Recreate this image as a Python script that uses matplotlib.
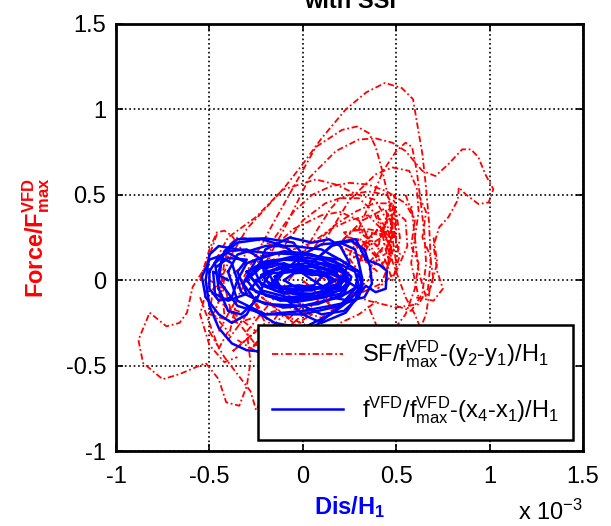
import matplotlib
matplotlib.use("Agg")
import matplotlib.pyplot as plt
import numpy as np

plt.rcParams["font.family"] = ["Liberation Sans", "DejaVu Sans"]
plt.rcParams["mathtext.fontset"] = "custom"
plt.rcParams["mathtext.rm"] = "Liberation Sans"
plt.rcParams["mathtext.it"] = "Liberation Sans"
plt.rcParams["mathtext.bf"] = "Liberation Sans:bold"
plt.rcParams["mathtext.default"] = "regular"

# x in units of 1e-3 (Dis/H1), y = Force/F_max
# --- SF/f_max - (y2-y1)/H1  (red, dash-dot) ---
red_big = [(-0.42, -0.2), (-0.44, 0.0), (-0.38, 0.15), (-0.3, 0.3), (-0.2, 0.42),
           (-0.1, 0.54), (0.0, 0.68), (0.1, 0.83), (0.23, 1.0), (0.34, 1.1),
           (0.44, 1.155), (0.53, 1.125), (0.59, 1.06), (0.61, 0.93), (0.64, 0.74),
           (0.66, 0.54), (0.675, 0.35), (0.685, 0.12), (0.67, -0.05), (0.62, -0.14),
           (0.5, -0.16), (0.35, -0.12), (0.2, -0.06)]
red_mid = [(-0.35, -0.05), (-0.25, 0.15), (-0.15, 0.35), (-0.05, 0.545), (0.07, 0.78),
           (0.21, 0.88), (0.29, 0.9), (0.355, 0.86), (0.39, 0.78), (0.426, 0.64),
           (0.46, 0.47), (0.48, 0.31), (0.47, 0.12), (0.42, -0.02), (0.3, -0.08),
           (0.15, -0.05)]
red_right = [(-0.2, 0.1), (-0.1, 0.3), (0.035, 0.6), (0.177, 0.756), (0.3, 0.824),
             (0.39, 0.83), (0.48, 0.805), (0.55, 0.756), (0.64, 0.64), (0.71, 0.61),
             (0.78, 0.68), (0.853, 0.766), (0.9, 0.766), (0.94, 0.72), (0.977, 0.62),
             (1.02, 0.533), (0.995, 0.455), (0.94, 0.446), (0.87, 0.505), (0.835, 0.544),
             (0.83, 0.47), (0.78, 0.37), (0.73, 0.31), (0.7, 0.2), (0.72, 0.05),
             (0.75, -0.05), (0.7, -0.12), (0.6, -0.1)]
red_peak4 = [(0.3, 0.3), (0.43, 0.64), (0.5, 0.756), (0.55, 0.805), (0.585, 0.78),
             (0.61, 0.64), (0.63, 0.47), (0.65, 0.28), (0.66, 0.1), (0.64, -0.08),
             (0.58, -0.18), (0.5, -0.15)]
red_low5 = [(-0.5, 0.05), (-0.4, 0.25), (-0.25, 0.37), (-0.108, 0.53), (0.07, 0.59),
            (0.177, 0.56), (0.284, 0.505), (0.39, 0.47), (0.45, 0.35), (0.47, 0.2),
            (0.45, 0.05)]
red_6 = [(0.1, 0.2), (0.25, 0.47), (0.39, 0.62), (0.48, 0.66), (0.57, 0.64),
         (0.61, 0.54), (0.62, 0.4), (0.6, 0.25), (0.58, 0.1), (0.6, 0.0), (0.62, -0.1)]
red_7 = [(-0.2, 0.0), (-0.1, 0.2), (0.0, 0.35), (0.12, 0.45), (0.25, 0.5),
         (0.35, 0.52), (0.45, 0.5), (0.5, 0.4), (0.52, 0.25), (0.5, 0.1)]
red_8 = [(-0.45, -0.1), (-0.42, 0.1), (-0.4, 0.2), (-0.35, 0.25), (-0.25, 0.24),
         (-0.15, 0.2), (-0.05, 0.18), (0.05, 0.22), (0.15, 0.3), (0.25, 0.35),
         (0.35, 0.38), (0.42, 0.3), (0.45, 0.15)]
red_9 = [(-0.4, -0.2), (-0.3, 0.0), (-0.2, 0.15), (-0.05, 0.3), (0.1, 0.38),
         (0.2, 0.4), (0.3, 0.35), (0.35, 0.25), (0.3, 0.1), (0.2, 0.0)]
red_10 = [(-0.3, -0.3), (-0.15, -0.1), (0.0, 0.1), (0.1, 0.25), (0.18, 0.33),
          (0.28, 0.4), (0.38, 0.45), (0.45, 0.45), (0.55, 0.35), (0.56, 0.2),
          (0.5, 0.05), (0.4, -0.05)]
red_11 = [(0.55, 0.5), (0.6, 0.35), (0.58, 0.2), (0.62, 0.1), (0.6, -0.05),
          (0.55, -0.2), (0.48, -0.3), (0.4, -0.28), (0.35, -0.15)]
red_12 = [(0.62, 0.5), (0.66, 0.4), (0.64, 0.25), (0.68, 0.15), (0.7, 0.0),
          (0.66, -0.1), (0.62, 0.05), (0.6, 0.25), (0.58, 0.45)]
red_13 = [(-0.35, -0.35), (-0.2, -0.45), (-0.05, -0.42), (0.1, -0.35), (0.2, -0.25),
          (0.3, -0.2), (0.4, -0.12)]
red_14 = [(-0.55, -0.1), (-0.5, -0.25), (-0.45, -0.4), (-0.4, -0.3), (-0.48, -0.2),
          (-0.42, -0.05), (-0.5, 0.0), (-0.55, -0.2), (-0.5, -0.38), (-0.42, -0.48),
          (-0.35, -0.45)]
red_15 = [(-0.55, 0.0), (-0.5, 0.18), (-0.46, 0.28), (-0.42, 0.29), (-0.38, 0.26),
          (-0.34, 0.2), (-0.3, 0.12)]
red_16 = [(-0.15, 0.25), (-0.05, 0.4), (0.05, 0.5), (0.15, 0.55), (0.25, 0.57),
          (0.35, 0.56), (0.45, 0.52), (0.55, 0.45), (0.6, 0.35)]
red_17 = [(0.0, 0.15), (0.08, 0.3), (0.15, 0.42), (0.2, 0.48), (0.3, 0.48),
          (0.38, 0.4), (0.42, 0.3), (0.4, 0.15), (0.35, 0.05)]
red_18 = [(0.45, 0.2), (0.5, 0.05), (0.55, -0.1), (0.6, -0.2), (0.63, -0.28),
          (0.66, -0.2), (0.68, -0.05), (0.72, 0.1), (0.7, 0.25)]
red_streak = [(0.3, 0.1), (0.35, 0.2), (0.42, 0.25), (0.47, 0.45), (0.48, 0.35),
              (0.46, 0.2), (0.5, 0.3), (0.49, 0.5), (0.47, 0.3), (0.44, 0.15),
              (0.5, 0.1), (0.48, 0.25), (0.4, 0.3), (0.35, 0.22), (0.45, 0.05),
              (0.49, 0.4), (0.5, 0.2), (0.43, 0.1), (0.38, 0.15), (0.3, 0.25),
              (0.25, 0.15), (0.35, 0.1), (0.42, 0.18), (0.48, 0.0), (0.52, 0.15),
              (0.46, 0.38), (0.4, 0.2), (0.28, 0.3), (0.2, 0.22), (0.32, 0.35),
              (0.44, 0.42), (0.5, 0.25), (0.38, 0.28), (0.3, 0.18), (0.22, 0.28),
              (0.34, 0.3), (0.46, 0.28), (0.4, 0.38), (0.48, 0.15)]
red_left = [(-0.46, 0.27), (-0.52, 0.08), (-0.59, -0.04), (-0.62, -0.19), (-0.66, -0.25),
            (-0.73, -0.27), (-0.82, -0.19), (-0.88, -0.35), (-0.855, -0.485),
            (-0.75, -0.58), (-0.66, -0.55), (-0.52, -0.485), (-0.45, -0.58),
            (-0.41, -0.715), (-0.34, -0.735), (-0.3, -0.62), (-0.28, -0.48),
            (-0.3, -0.3)]
red_bottom = [(-0.5, -0.3), (-0.42, -0.45), (-0.35, -0.55), (-0.28, -0.65),
              (-0.25, -0.76), (-0.22, -0.7), (-0.18, -0.55), (-0.12, -0.45),
              (-0.05, -0.5), (0.02, -0.42)]
red_dense = [(-0.45, -0.3), (-0.35, -0.1), (-0.4, -0.35), (-0.3, -0.2), (-0.42, -0.15),
             (-0.25, -0.3), (-0.38, -0.42), (-0.2, -0.25), (-0.3, -0.05), (-0.15, -0.3),
             (-0.28, -0.4), (-0.1, -0.2), (-0.22, -0.1), (-0.05, -0.25), (-0.2, -0.35),
             (0.0, -0.15), (-0.12, -0.05), (0.05, -0.2), (-0.1, -0.3), (0.1, -0.1),
             (0.0, 0.0), (0.15, -0.15), (0.05, 0.05), (0.2, -0.05), (0.1, 0.1),
             (0.25, 0.0), (0.15, 0.15), (0.3, 0.05), (0.2, 0.2), (0.35, 0.12),
             (0.25, 0.25), (0.4, 0.2), (0.3, 0.3), (0.45, 0.25), (0.35, 0.0),
             (0.2, -0.15), (0.05, -0.28), (-0.15, -0.18), (-0.35, -0.25), (-0.5, -0.2),
             (-0.48, -0.05), (-0.3, 0.1), (-0.15, 0.12), (-0.35, 0.18), (-0.45, 0.1),
             (-0.38, -0.2), (-0.25, -0.38), (-0.1, -0.15), (0.1, -0.22), (0.25, -0.1),
             (0.15, 0.05), (0.3, 0.15), (0.4, 0.05)]
red_loops = [red_big, red_mid, red_right, red_peak4, red_low5, red_6, red_7,
             red_8, red_9, red_10, red_11, red_12, red_13, red_14, red_15, red_16,
             red_17, red_18, red_streak, red_left, red_bottom, red_dense]

# --- f^VFD/f_max - (x4-x1)/H1  (blue, solid) ---
blue_core1 = [(-0.3, 0.0), (-0.25, 0.08), (-0.1, 0.12), (0.05, 0.11), (0.2, 0.06),
              (0.25, 0.0), (0.2, -0.06), (0.05, -0.1), (-0.1, -0.11), (-0.25, -0.07),
              (-0.3, 0.0)]
blue_core2 = [(-0.2, 0.0), (-0.15, 0.06), (-0.05, 0.09), (0.1, 0.07), (0.2, 0.02),
              (0.18, -0.04), (0.05, -0.08), (-0.1, -0.07), (-0.2, 0.0)]
blue_core3 = [(-0.28, 0.02), (-0.2, 0.1), (-0.05, 0.14), (0.1, 0.12), (0.22, 0.05),
              (0.24, -0.03), (0.12, -0.1), (-0.05, -0.13), (-0.2, -0.09), (-0.28, 0.02)]
blue_core4 = [(-0.15, -0.02), (-0.1, 0.05), (0.0, 0.07), (0.12, 0.04), (0.15, -0.02),
              (0.05, -0.06), (-0.08, -0.06), (-0.15, -0.02)]
blue_core5 = [(-0.35, 0.0), (-0.3, 0.1), (-0.15, 0.16), (0.0, 0.16), (0.15, 0.12),
              (0.28, 0.05), (0.3, -0.03), (0.2, -0.1), (0.0, -0.15), (-0.2, -0.14),
              (-0.33, -0.07), (-0.35, 0.0)]
blue_core6 = [(-0.25, 0.0), (-0.18, 0.04), (-0.05, 0.05), (0.1, 0.03), (0.18, 0.0),
              (0.1, -0.04), (-0.05, -0.05), (-0.18, -0.04), (-0.25, 0.0)]
blue_core7 = [(-0.3, 0.05), (-0.2, 0.11), (-0.05, 0.13), (0.1, 0.1), (0.22, 0.04),
              (0.2, -0.04), (0.08, -0.09), (-0.08, -0.1), (-0.22, -0.06), (-0.3, 0.05)]
blue_core8 = [(-0.22, 0.03), (-0.12, 0.08), (0.02, 0.1), (0.15, 0.06), (0.22, 0.0),
              (0.15, -0.06), (0.0, -0.09), (-0.15, -0.06), (-0.22, 0.03)]
blue_core9 = [(-0.18, -0.03), (-0.12, 0.04), (0.0, 0.06), (0.1, 0.05), (0.16, 0.01),
              (0.12, -0.04), (0.0, -0.06), (-0.12, -0.05), (-0.18, -0.03)]
blue_core10 = [(-0.32, -0.02), (-0.25, 0.12), (-0.1, 0.17), (0.05, 0.15), (0.18, 0.1),
               (0.26, 0.02), (0.22, -0.08), (0.08, -0.14), (-0.1, -0.16), (-0.25, -0.12),
               (-0.32, -0.02)]
blue_core11 = [(-0.1, 0.0), (-0.05, 0.04), (0.05, 0.05), (0.1, 0.02), (0.06, -0.03),
               (-0.04, -0.04), (-0.1, 0.0)]
blue_core12 = [(-0.26, 0.06), (-0.15, 0.1), (0.0, 0.08), (0.12, 0.1), (0.2, 0.08),
               (0.24, 0.02), (0.18, -0.05), (0.05, -0.04), (-0.1, -0.08), (-0.22, -0.03),
               (-0.26, 0.06)]
blue_core13 = [(-0.28, -0.05), (-0.2, 0.05), (-0.1, 0.07), (0.05, 0.03), (0.15, 0.04),
               (0.25, -0.02), (0.2, -0.08), (0.05, -0.11), (-0.12, -0.12), (-0.28, -0.05)]
blue_core14 = [(-0.15, 0.02), (-0.08, 0.08), (0.05, 0.08), (0.18, 0.05), (0.2, -0.02),
               (0.1, -0.05), (-0.02, -0.03), (-0.12, -0.04), (-0.15, 0.02)]
blue_core15 = [(-0.2, 0.07), (-0.1, 0.1), (0.0, 0.04), (0.08, -0.02), (0.15, -0.06),
               (0.08, -0.1), (-0.05, -0.07), (-0.15, -0.02), (-0.2, 0.07)]
blue_mid = [(-0.4, 0.05), (-0.35, 0.15), (-0.2, 0.2), (-0.05, 0.2), (0.1, 0.18),
            (0.2, 0.12), (0.3, 0.05), (0.32, -0.05), (0.2, -0.15), (0.0, -0.2),
            (-0.2, -0.2), (-0.35, -0.12), (-0.4, 0.05)]
blue_big = [(-0.5, 0.15), (-0.52, 0.0), (-0.5, -0.15), (-0.45, -0.28), (-0.38, -0.37),
            (-0.3, -0.41), (-0.2, -0.42), (-0.08, -0.4), (0.0, -0.33), (0.1, -0.24),
            (0.2, -0.15), (0.28, -0.05), (0.3, 0.05), (0.2, 0.12), (0.0, 0.15),
            (-0.2, 0.16), (-0.35, 0.18), (-0.45, 0.2), (-0.5, 0.15)]
blue_outer1 = [(-0.45, 0.0), (-0.43, 0.15), (-0.35, 0.22), (-0.22, 0.24), (-0.1, 0.2),
               (0.0, 0.12), (0.1, 0.05), (0.2, 0.02), (0.3, -0.05), (0.28, -0.12),
               (0.15, -0.15), (0.0, -0.18), (-0.2, -0.2), (-0.35, -0.15), (-0.45, 0.0)]
blue_outer2 = [(-0.1, 0.05), (0.0, 0.15), (0.1, 0.21), (0.2, 0.22), (0.28, 0.18),
               (0.3, 0.1), (0.32, 0.0), (0.3, -0.1), (0.22, -0.18), (0.1, -0.2),
               (0.0, -0.15)]
blue_outer3 = [(-0.3, 0.1), (-0.4, 0.16), (-0.5, 0.12), (-0.54, 0.02), (-0.52, -0.1),
               (-0.45, -0.2), (-0.38, -0.25), (-0.3, -0.2), (-0.25, -0.1)]
blue_top1 = [(-0.45, 0.05), (-0.42, 0.17), (-0.35, 0.24), (-0.2, 0.245), (-0.05, 0.22),
             (0.0, 0.15), (-0.05, 0.05)]
blue_top2 = [(-0.25, 0.05), (-0.2, 0.18), (-0.07, 0.25), (0.05, 0.22), (0.14, 0.24),
             (0.2, 0.2), (0.25, 0.1), (0.2, 0.0)]
blue_right = [(0.0, 0.05), (0.1, 0.15), (0.177, 0.22), (0.284, 0.24), (0.337, 0.12),
              (0.41, 0.09), (0.45, 0.055), (0.444, -0.05), (0.39, -0.07), (0.337, -0.033),
              (0.284, -0.11), (0.23, -0.19), (0.1, -0.25), (0.0, -0.2), (-0.1, -0.1)]
blue_right2 = [(0.05, 0.1), (0.15, 0.2), (0.26, 0.23), (0.33, 0.18), (0.36, 0.08),
               (0.37, -0.02), (0.33, -0.1), (0.25, -0.12), (0.15, -0.1)]
blue_left2 = [(-0.4, 0.0), (-0.48, 0.05), (-0.47, -0.08), (-0.4, -0.12), (-0.3, -0.08),
              (-0.35, 0.05), (-0.3, 0.12), (-0.4, 0.13), (-0.46, 0.08)]
blue_left3 = [(-0.45, -0.05), (-0.47, 0.1), (-0.4, 0.17), (-0.3, 0.18), (-0.22, 0.12),
              (-0.2, 0.0), (-0.25, -0.12), (-0.33, -0.2), (-0.4, -0.18), (-0.45, -0.05)]
blue_left4 = [(-0.5, 0.05), (-0.45, 0.14), (-0.38, 0.1), (-0.35, 0.0), (-0.38, -0.1),
              (-0.45, -0.12), (-0.5, -0.05), (-0.5, 0.05)]
blue_low = [(-0.3, -0.15), (-0.15, -0.25), (0.0, -0.28), (0.15, -0.2), (0.25, -0.12),
            (0.32, -0.02)]
blue_loops = [blue_big, blue_outer1, blue_outer2, blue_outer3, blue_mid, blue_core5,
              blue_core10, blue_core3, blue_core1, blue_core7, blue_core12,
              blue_core13, blue_core2, blue_core8, blue_core6, blue_core14,
              blue_core15, blue_core9, blue_core4, blue_core11, blue_top1,
              blue_top2, blue_right, blue_right2, blue_left2, blue_left3,
              blue_left4, blue_low]

x_ticks = [-1, -0.5, 0, 0.5, 1, 1.5]
x_tick_labels = ["-1", "-0.5", "0", "0.5", "1", "1.5"]
y_ticks = [-1, -0.5, 0, 0.5, 1, 1.5]
y_tick_labels = ["-1", "-0.5", "0", "0.5", "1", "1.5"]

label_red = r"SF/f$^{VFD}_{max}$-(y$_2$-y$_1$)/H$_1$"
label_blue = r"f$^{VFD}$/f$^{VFD}_{max}$-(x$_4$-x$_1$)/H$_1$"

fig = plt.figure(figsize=(6.11, 5.26), dpi=100)
ax = fig.add_axes([116 / 611, 75 / 526, 467 / 611, 427 / 526])

for i, loop in enumerate(red_loops):
    pts = np.array(loop)
    ax.plot(pts[:, 0], pts[:, 1], color="red", ls="-.", lw=1.3,
            dashes=(3.5, 1.5, 1, 1.5), label=label_red if i == 0 else None)
for i, loop in enumerate(blue_loops):
    pts = np.array(loop)
    ax.plot(pts[:, 0], pts[:, 1], color="blue", ls="-", lw=1.8,
            label=label_blue if i == 0 else None)

ax.set_xlim(-1, 1.5)
ax.set_ylim(-1, 1.5)
ax.set_xticks(x_ticks, x_tick_labels)
ax.set_yticks(y_ticks, y_tick_labels)
ax.tick_params(direction="in", length=5, width=1.2, labelsize=17,
               top=True, right=True)
ax.tick_params(axis="x", pad=11)
ax.tick_params(axis="y", pad=7)
ax.grid(True, color="black", ls=":", lw=1.2)
for s in ax.spines.values():
    s.set_linewidth(2)

ax.set_xlabel(r"Dis/H$_\mathbf{1}$", color="blue", fontsize=17,
              fontweight="bold", labelpad=4)
ax.set_ylabel(r"Force/F$^{\mathbf{VFD}}_{\mathbf{max}}$", color="red",
              fontsize=17, fontweight="bold", labelpad=10)
fig.text(583 / 611, 6 / 526, r"x 10$^{-3}$", ha="right", va="baseline", fontsize=17)
fig.text(350 / 611, 1 - 8 / 526, "with SSI", ha="center", va="baseline",
         fontsize=17, fontweight="bold")

leg = ax.legend(loc="lower right", bbox_to_anchor=(0.979, 0.026), fontsize=17,
                frameon=True, fancybox=False, framealpha=1, edgecolor="black",
                handlelength=3.0, borderpad=0.6, labelspacing=1.0,
                borderaxespad=0)
leg.get_frame().set_linewidth(1.8)

fig.savefig("out.png", dpi=100)
